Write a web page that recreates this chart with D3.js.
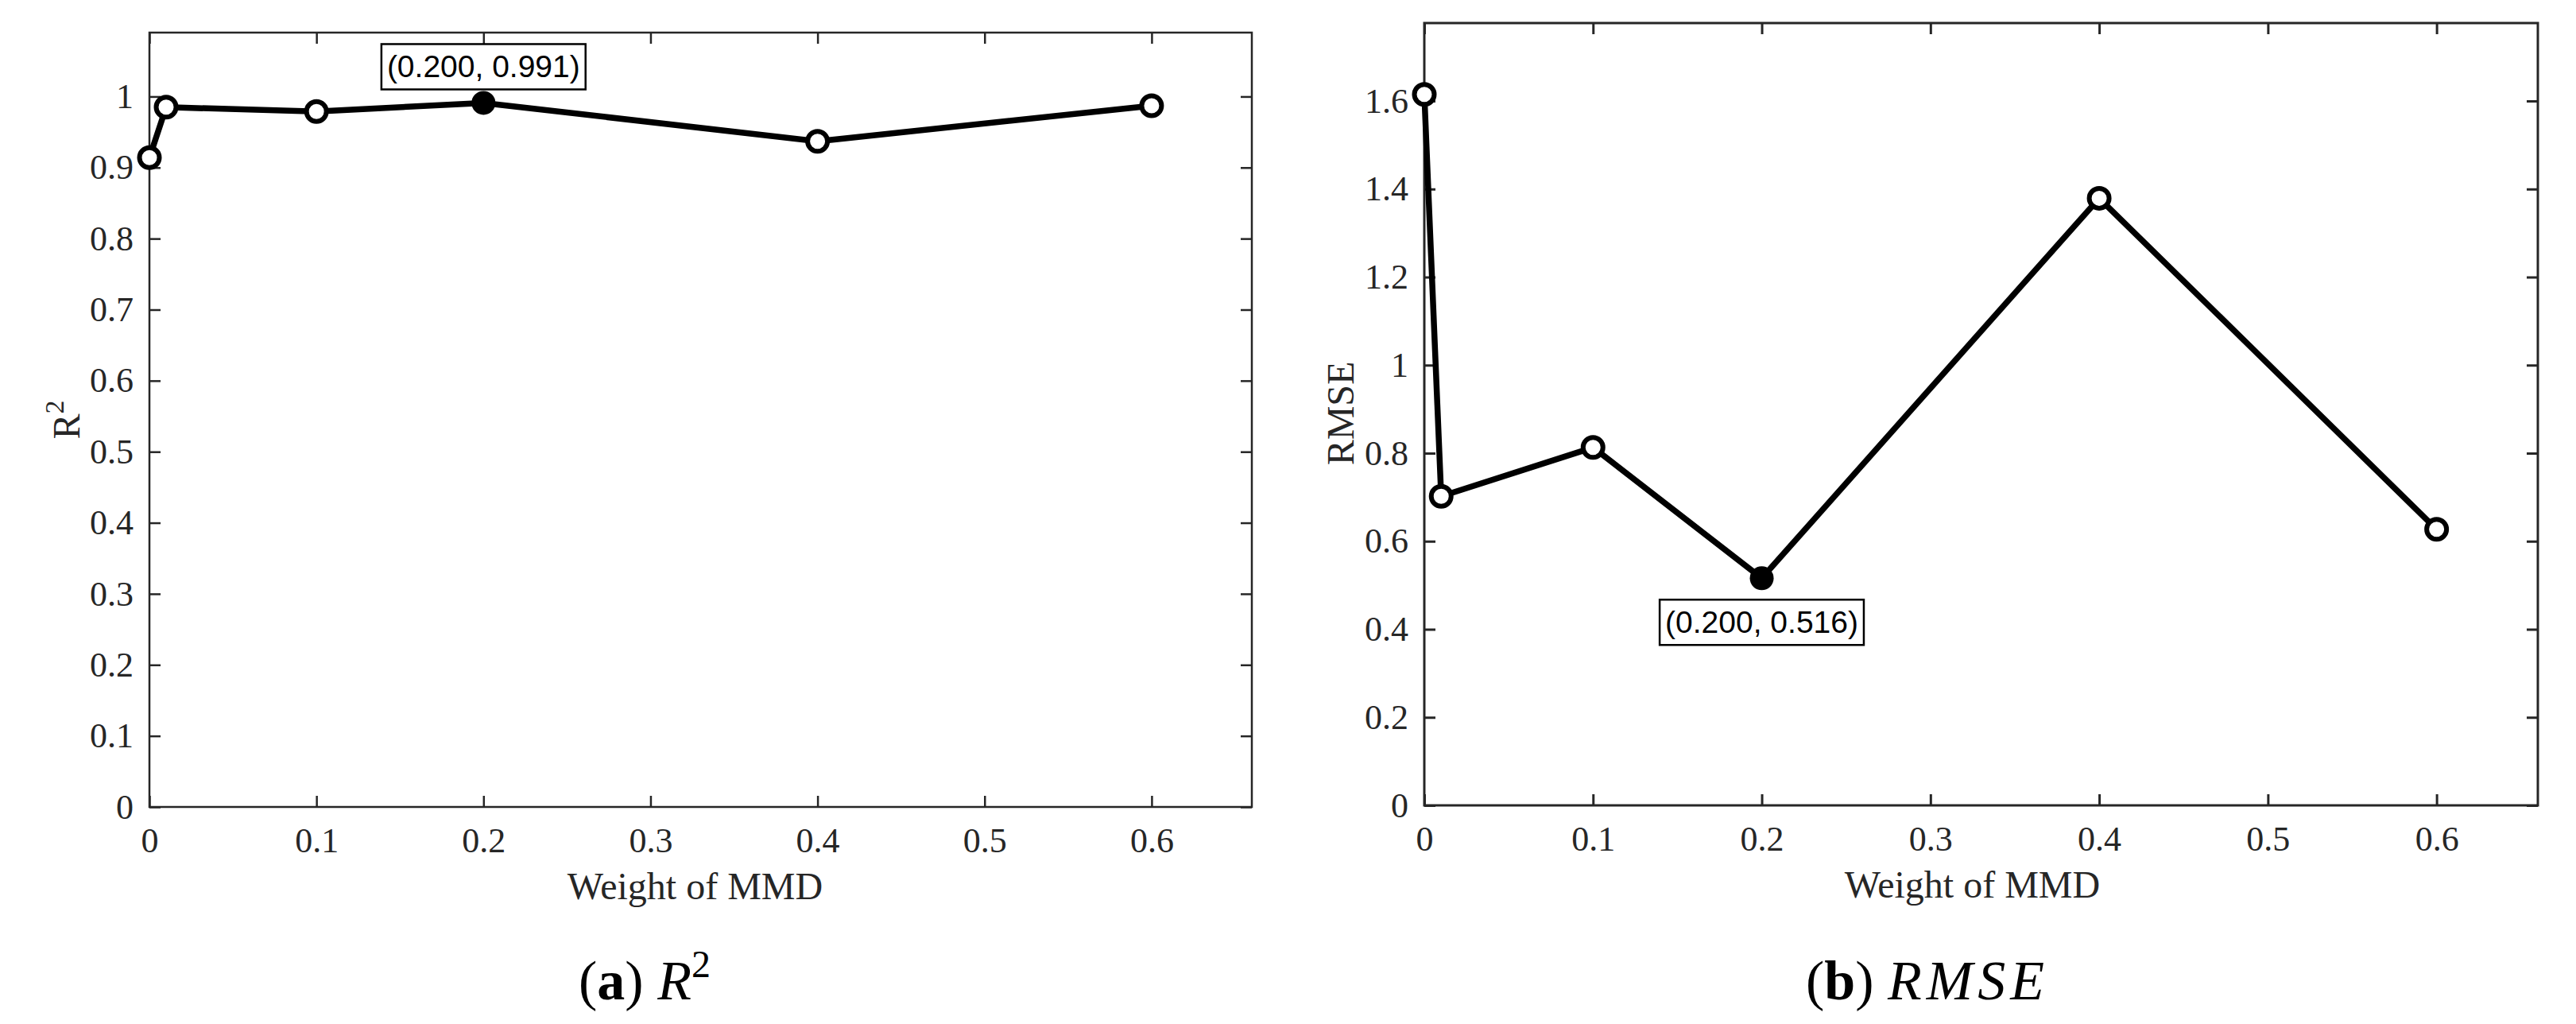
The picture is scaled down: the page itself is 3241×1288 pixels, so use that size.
<!DOCTYPE html>
<html>
<head>
<meta charset="utf-8">
<script src="https://cdn.jsdelivr.net/npm/d3@7"></script>
<style>
  body { margin: 0; background: #fff; }
  svg { display: block; }
  .tick text { font-family: "Liberation Serif", "Times New Roman", serif; fill: #262626; }
</style>
</head>
<body>
<svg id="fig" width="3241" height="1288"></svg>
<script>
// data
var weights = [0, 0.01, 0.1, 0.2, 0.4, 0.6];
var r2Values = [0.914, 0.985, 0.979, 0.991, 0.937, 0.987];
var rmseValues = [1.615, 0.702, 0.813, 0.516, 1.379, 0.627];

var xTicks = [0, 0.1, 0.2, 0.3, 0.4, 0.5, 0.6];
var xTickLabels = ["0", "0.1", "0.2", "0.3", "0.4", "0.5", "0.6"];
var r2Ticks = [0, 0.1, 0.2, 0.3, 0.4, 0.5, 0.6, 0.7, 0.8, 0.9, 1];
var r2TickLabels = ["0", "0.1", "0.2", "0.3", "0.4", "0.5", "0.6", "0.7", "0.8", "0.9", "1"];
var rmseTicks = [0, 0.2, 0.4, 0.6, 0.8, 1, 1.2, 1.4, 1.6];
var rmseTickLabels = ["0", "0.2", "0.4", "0.6", "0.8", "1", "1.2", "1.4", "1.6"];

var svg = d3.select("#fig");
svg.append("rect").attr("width", 3241).attr("height", 1288).attr("fill", "#fff");

var fmt = d3.format(".3f");

//draw one panel
function drawPanel(cfg) {
    var x = d3.scaleLinear().domain([0, 0.66]).range([0, cfg.w]);
    var y = d3.scaleLinear().domain([0, cfg.yMax]).range([cfg.h, 0]);

    var g = svg.append("g")
        .attr("transform", "translate(" + cfg.left + "," + cfg.top + ")");

    // axes with inward ticks on all four sides
    var bottom = g.append("g")
        .attr("transform", "translate(0," + cfg.h + ")")
        .call(d3.axisBottom(x).tickValues(xTicks)
            .tickFormat(function(d, i) { return xTickLabels[i]; })
            .tickSizeInner(-14).tickSizeOuter(0).tickPadding(26));
    var top = g.append("g")
        .call(d3.axisTop(x).tickValues(xTicks).tickFormat("")
            .tickSizeInner(-14).tickSizeOuter(0));
    var left = g.append("g")
        .call(d3.axisLeft(y).tickValues(cfg.ticks)
            .tickFormat(function(d, i) { return cfg.tickLabels[i]; })
            .tickSizeInner(-14).tickSizeOuter(0).tickPadding(20));
    var right = g.append("g")
        .attr("transform", "translate(" + cfg.w + ",0)")
        .call(d3.axisRight(y).tickValues(cfg.ticks).tickFormat("")
            .tickSizeInner(-14).tickSizeOuter(0));

    [bottom, top, left, right].forEach(function(a) {
        a.select(".domain").remove();
        a.selectAll(".tick line").attr("stroke", "#262626").attr("stroke-width", cfg.axisW);
        a.selectAll(".tick text").style("font-size", "44px");
    });

    g.append("rect")
        .attr("width", cfg.w).attr("height", cfg.h)
        .attr("fill", "none")
        .attr("stroke", "#262626")
        .attr("stroke-width", cfg.axisW);

    var pts = weights.map(function(w, i) { return { x: w, y: cfg.values[i], best: i === cfg.best }; });

    var line = d3.line()
        .x(function(d) { return x(d.x); })
        .y(function(d) { return y(d.y); });

    g.append("path")
        .datum(pts)
        .attr("d", line)
        .attr("fill", "none")
        .attr("stroke", "#000")
        .attr("stroke-width", 7.5)
        .attr("stroke-linejoin", "round");

    g.selectAll("circle.pt").data(pts).enter()
        .append("circle")
        .attr("class", "pt")
        .attr("cx", function(d) { return x(d.x); })
        .attr("cy", function(d) { return y(d.y); })
        .attr("r", function(d) { return d.best ? 15 : 12.5; })
        .attr("fill", function(d) { return d.best ? "#000" : "#fff"; })
        .attr("stroke", "#000")
        .attr("stroke-width", function(d) { return d.best ? 0 : 6; });

    // data tip
    var b = pts[cfg.best];
    var tip = g.append("g");
    var tipText = tip.append("text")
        .attr("text-anchor", "middle")
        .style("font-family", "'Liberation Sans', Arial, sans-serif")
        .style("font-size", "39px")
        .attr("fill", "#000")
        .text("(" + fmt(b.x) + ", " + fmt(b.y) + ")");
    var bw = tipText.node().getComputedTextLength() + 14;
    var bh = 57;
    var bx = x(b.x) - bw / 2;
    var by = cfg.tipAbove ? y(b.y) - 17 - bh : y(b.y) + 27;
    tip.insert("rect", "text")
        .attr("x", bx).attr("y", by)
        .attr("width", bw).attr("height", bh)
        .attr("fill", "#fff")
        .attr("stroke", "#000")
        .attr("stroke-width", 2.5);
    tipText.attr("x", x(b.x)).attr("y", by + 42);

    // axis titles
    g.append("text")
        .attr("x", cfg.w / 2 + cfg.xLabelShift)
        .attr("y", cfg.h + 116)
        .attr("text-anchor", "middle")
        .style("font-family", "'Liberation Serif', 'Times New Roman', serif")
        .style("font-size", "48px")
        .attr("fill", "#262626")
        .text("Weight of MMD");

    var yl = g.append("text")
        .attr("transform", "translate(" + cfg.yLabelX + "," + cfg.yLabelY + ") rotate(-90)")
        .attr("text-anchor", "middle")
        .style("font-family", "'Liberation Serif', 'Times New Roman', serif")
        .style("font-size", "48px")
        .attr("fill", "#262626");
    yl.append("tspan").text(cfg.yLabel);
    if (cfg.yLabelSup) {
        yl.append("tspan").attr("dy", -20).style("font-size", "34px").text(cfg.yLabelSup);
    }

    // caption below the panel
    var cap = svg.append("text")
        .attr("x", cfg.capX)
        .attr("y", 1257)
        .attr("text-anchor", "middle")
        .style("font-family", "'Liberation Serif', 'Times New Roman', serif")
        .style("font-size", "70px")
        .attr("fill", "#000");
    cap.append("tspan").text("(");
    cap.append("tspan").style("font-weight", "bold").text(cfg.capLetter);
    cap.append("tspan").text(") ");
    cap.append("tspan").style("font-style", "italic").style("letter-spacing", cfg.capSpacing).text(cfg.capMath);
    if (cfg.capSup) {
        cap.append("tspan").attr("dy", -28).style("font-size", "48px").text(cfg.capSup);
    }
}

drawPanel({
    left: 188, top: 41, w: 1387, h: 974, axisW: 2.5,
    yMax: 1.09, values: r2Values, ticks: r2Ticks, tickLabels: r2TickLabels,
    best: 3, tipAbove: true,
    yLabel: "R", yLabelSup: "2", yLabelX: -88, yLabelY: 487,
    xLabelShift: -7,
    capX: 811, capLetter: "a", capMath: "R", capSup: "2", capSpacing: "0px"
});

drawPanel({
    left: 1792, top: 29, w: 1401, h: 984, axisW: 3,
    yMax: 1.777, values: rmseValues, ticks: rmseTicks, tickLabels: rmseTickLabels,
    best: 3, tipAbove: false,
    yLabel: "RMSE", yLabelSup: null, yLabelX: -89, yLabelY: 491,
    xLabelShift: -11,
    capX: 2425, capLetter: "b", capMath: "RMSE", capSup: null, capSpacing: "6px"
});
</script>
</body>
</html>
